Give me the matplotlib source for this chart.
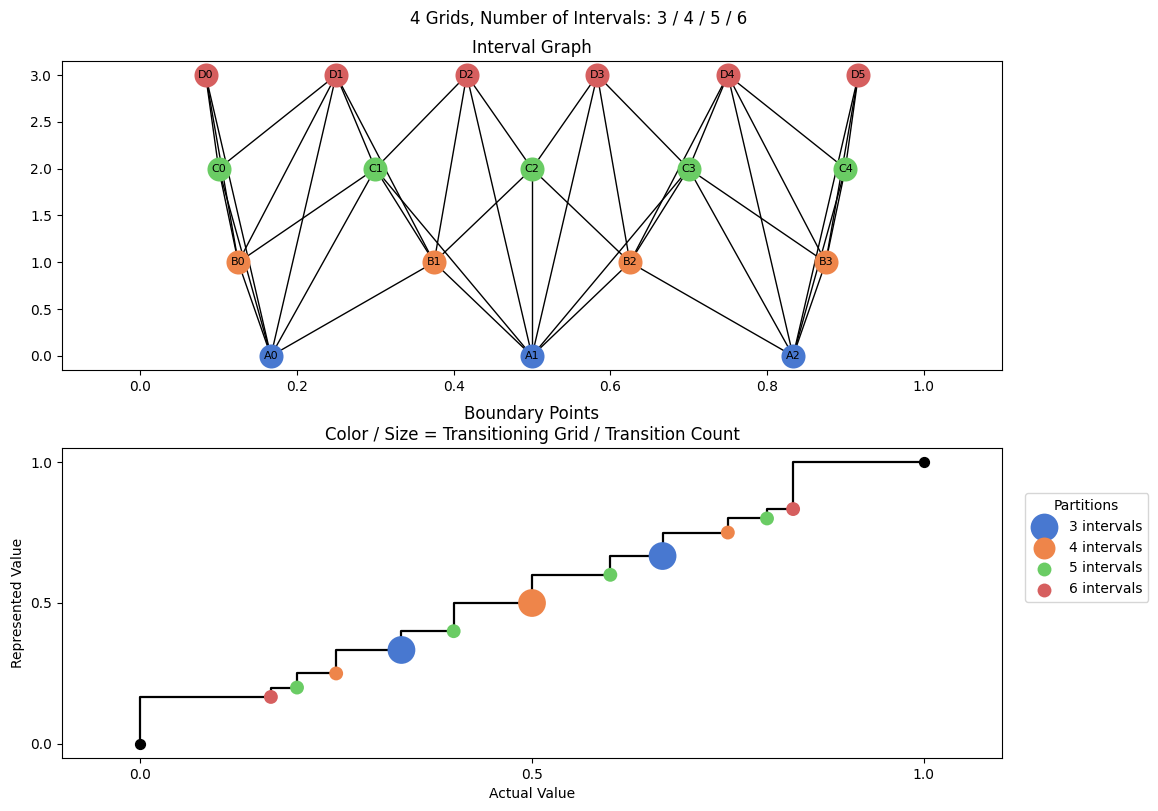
import matplotlib
matplotlib.use("Agg")
import matplotlib.pyplot as plt

# ---------------- data ----------------
grid_counts = [3, 4, 5, 6]
grid_letters = ["A", "B", "C", "D"]
grid_colors = ["#4878d0", "#ee854a", "#6acc64", "#d65f5f"]

# node centres per grid (level = y value)
A_x = [1/6, 3/6, 5/6]
B_x = [1/8, 3/8, 5/8, 7/8]
C_x = [0.1, 0.3, 0.5, 0.7, 0.9]
D_x = [1/12, 3/12, 5/12, 7/12, 9/12, 11/12]
node_x = [A_x, B_x, C_x, D_x]

# boundary points
boundary_x = [1/6, 1/5, 1/4, 1/3, 2/5, 1/2, 3/5, 2/3, 3/4, 4/5, 5/6]
boundary_grid = [6, 5, 4, 3, 5, 4, 5, 3, 4, 5, 6]
boundary_count = [1, 1, 1, 2, 1, 2, 1, 2, 1, 1, 1]
step_x = [0.0] + boundary_x + [1.0]
step_y = [0.0] + boundary_x + [1.0]

# ---------------- figure ----------------
fig = plt.figure(figsize=(11.58, 8.11), dpi=100)
fig.suptitle("4 Grids, Number of Intervals: 3 / 4 / 5 / 6", y=0.988, fontsize=12)

W, H = 1158, 811
ax1 = fig.add_axes([62/W, 1-370/H, 940/W, 309/H])
ax2 = fig.add_axes([62/W, 1-758/H, 940/W, 310/H])

# ---- interval graph ----
nodes = []
for lvl, (n, xs) in enumerate(zip(grid_counts, node_x)):
    w = 1.0 / n
    for i, cx in enumerate(xs):
        nodes.append((lvl, i, cx, cx - w/2, cx + w/2))

eps = 1e-9
for a in range(len(nodes)):
    for b in range(a+1, len(nodes)):
        la, ia, xa, lo_a, hi_a = nodes[a]
        lb, ib, xb, lo_b, hi_b = nodes[b]
        if la == lb:
            continue
        if min(hi_a, hi_b) - max(lo_a, lo_b) > eps:
            ax1.plot([xa, xb], [la, lb], color="black", lw=1.0, zorder=1)

for lvl, (xs, col, let) in enumerate(zip(node_x, grid_colors, grid_letters)):
    ax1.scatter(xs, [lvl]*len(xs), s=300, color=col, zorder=2, linewidths=0)
    for i, cx in enumerate(xs):
        ax1.text(cx, lvl, f"{let}{i}", ha="center", va="center", fontsize=8, zorder=3)

ax1.set_xlim(-0.1, 1.1)
ax1.set_ylim(-0.15, 3.15)
ax1.set_xticks([0.0, 0.2, 0.4, 0.6, 0.8, 1.0])
ax1.set_yticks([0.0, 0.5, 1.0, 1.5, 2.0, 2.5, 3.0])
ax1.set_title("Interval Graph")

# ---- boundary points ----
ax2.step(step_x, step_y, where="pre", color="black", lw=1.6, zorder=1)
ax2.scatter([step_x[0], step_x[-1]], [step_y[0], step_y[-1]], s=50, color="black", zorder=3)
for g, col in zip(grid_counts, grid_colors):
    xs = [x for x, gg in zip(boundary_x, boundary_grid) if gg == g]
    ss = [100 * c**2 for c, gg in zip(boundary_count, boundary_grid) if gg == g]
    ax2.scatter(xs, xs, s=ss, color=col, zorder=2, linewidths=0, label=f"{g} intervals")

ax2.set_xlim(-0.1, 1.1)
ax2.set_ylim(-0.05, 1.05)
ax2.set_xticks([0.0, 0.5, 1.0])
ax2.set_yticks([0.0, 0.5, 1.0])
ax2.set_xlabel("Actual Value")
ax2.set_ylabel("Represented Value")
ax2.set_title("Boundary Points\nColor / Size = Transitioning Grid / Transition Count")
ax2.legend(title="Partitions", loc="upper left", bbox_to_anchor=(1.017, 0.877))

fig.savefig("out.png", dpi=100)
